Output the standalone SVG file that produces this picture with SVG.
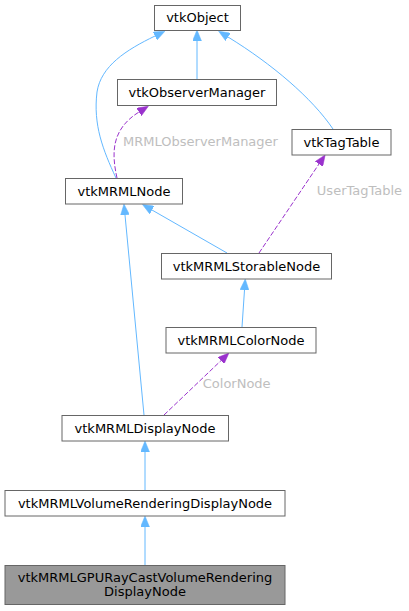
<svg xmlns="http://www.w3.org/2000/svg" width="409" height="611" viewBox="0 0 409 611">
<style>
.box{fill:#ffffff;stroke:#666666;stroke-width:1}
.cur{fill:#999999;stroke:#666666;stroke-width:1}
text{font-family:"DejaVu Sans","Liberation Sans",sans-serif;font-size:13px;fill:#000000;text-anchor:middle}
.lbl{fill:#bebebe}
.inh{fill:none;stroke:#63b8ff;stroke-width:1;marker-end:url(#ab)}
.use{fill:none;stroke:#9a32cd;stroke-width:1;stroke-dasharray:5,2;marker-end:url(#ap)}
</style>
<defs>
<marker id="ab" markerUnits="userSpaceOnUse" viewBox="0 0 11 9" refX="0" refY="4.5" markerWidth="11" markerHeight="9" orient="auto"><path d="M0,0 L11,4.5 L0,9 z" fill="#63b8ff" stroke="#63b8ff" stroke-width="0.5"/></marker>
<marker id="ap" markerUnits="userSpaceOnUse" viewBox="0 0 11 9" refX="0" refY="4.5" markerWidth="11" markerHeight="9" orient="auto"><path d="M0,0 L11,4.5 L0,9 z" fill="#9a32cd" stroke="#9a32cd" stroke-width="0.5"/></marker>
</defs>
<g id="edges">
<path class="inh" d="M197,79 L197,41"/>
<path class="inh" d="M116,178 C103,150 93,125 97,92 C101,66 126,50 155,36"/>
<path class="inh" d="M333,129 C312,98 272,64 228,37"/>
<path class="inh" d="M227,253 L152,210"/>
<path class="inh" d="M242,327 L244.5,290"/>
<path class="inh" d="M144,415 L125,215"/>
<path class="inh" d="M145,490 L145,452"/>
<path class="inh" d="M145,565 L145,527"/>
<path class="use" d="M117,178 C112,155 110,130 139,112"/>
<text class="lbl" x="200.5" y="145.5">MRMLObserverManager</text>
<path class="use" d="M259,253 L319,164"/>
<text class="lbl" x="359.5" y="194.5">UserTagTable</text>
<path class="use" d="M164,415 L221,360.6"/>
<text class="lbl" x="236.7" y="387.5">ColorNode</text>
</g>
<g id="vtkObject"><rect class="box" x="154.5" y="5.5" width="86" height="25"/><text x="197.5" y="22">vtkObject</text></g>
<g id="vtkObserverManager"><rect class="box" x="117.5" y="79.5" width="159" height="26"/><text x="197" y="97">vtkObserverManager</text></g>
<g id="vtkTagTable"><rect class="box" x="292" y="129.5" width="99" height="25.5"/><text x="341.5" y="146.7">vtkTagTable</text></g>
<g id="vtkMRMLNode"><rect class="box" x="65.5" y="178.5" width="117" height="25.5"/><text x="124" y="195.7">vtkMRMLNode</text></g>
<g id="vtkMRMLStorableNode"><rect class="box" x="161.5" y="253.5" width="170" height="25.5"/><text x="246.5" y="270.7">vtkMRMLStorableNode</text></g>
<g id="vtkMRMLColorNode"><rect class="box" x="166" y="327.5" width="150" height="25.5"/><text x="241" y="344.7">vtkMRMLColorNode</text></g>
<g id="vtkMRMLDisplayNode"><rect class="box" x="62" y="415.5" width="166.5" height="25.5"/><text x="145" y="432.5">vtkMRMLDisplayNode</text></g>
<g id="vtkMRMLVolumeRenderingDisplayNode"><rect class="box" x="5" y="490.5" width="280" height="25.5"/><text x="145" y="507.5">vtkMRMLVolumeRenderingDisplayNode</text></g>
<g id="vtkMRMLGPURayCastVolumeRenderingDisplayNode"><rect class="cur" x="5" y="565.5" width="280" height="39"/><text x="145" y="581.5">vtkMRMLGPURayCastVolumeRendering</text><text x="145" y="596">DisplayNode</text></g>
</svg>
